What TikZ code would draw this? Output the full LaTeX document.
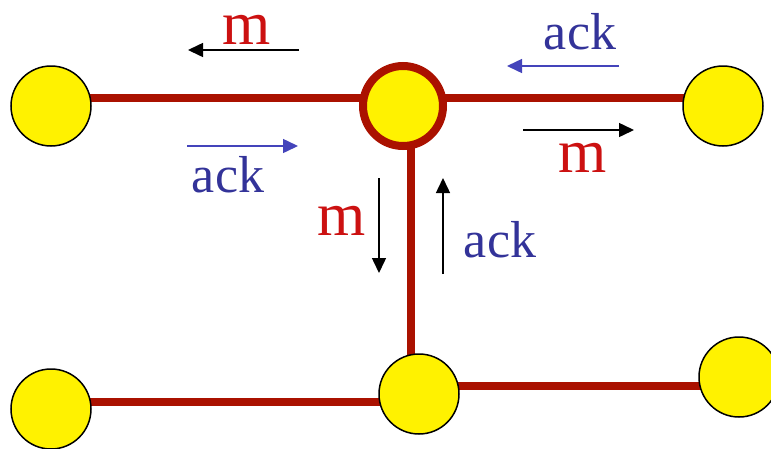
\documentclass[tikz,border=0pt]{standalone}
\usepackage{fontspec}
\setmainfont{Liberation Serif}
\usetikzlibrary{arrows.meta,backgrounds}
\definecolor{linkred}{RGB}{170,17,0}
\definecolor{mred}{RGB}{204,17,17}
\definecolor{ackblue}{RGB}{51,51,153}
\definecolor{arrowblue}{RGB}{68,68,187}
\begin{document}
\begin{tikzpicture}[x=1pt,y=-1pt,
  peer/.style={circle, draw=black, line width=1.5pt, fill=yellow, minimum size=80pt, inner sep=0pt},
  hub/.style={peer, draw=linkred, line width=8pt},
  link/.style={draw=linkred, line width=8pt},
  msgarrow/.style={-{Triangle[length=15pt,width=14pt]}, line width=1.5pt},
  mtext/.style={text=mred, font=\fontsize{62}{70}\selectfont, inner sep=0pt, anchor=base},
  acktext/.style={text=ackblue, font=\fontsize{52}{60}\selectfont, inner sep=0pt, anchor=base}]
\useasboundingbox (0,0) rectangle (771,448);

% peers
\node[peer] (west) at (51,106) {};
\node[hub] (hub) at (403,106) {};
\node[peer] (east) at (723,106) {};
\node[peer] (sw) at (51,409) {};
\node[peer] (south) at (419,394) {};
\node[peer] (se) at (739,377) {};

% links
\begin{scope}[on background layer]
\draw[link] ([yshift=8pt]west.center) -- ([yshift=8pt]hub.center);
\draw[link] ([yshift=8pt]hub.center) -- ([yshift=8pt]east.center);
\draw[link] ([xshift=8pt]hub.center) -- ([xshift=-8pt]south.center);
\draw[link] ([yshift=7pt]sw.center) -- ([yshift=-8pt]south.center);
\draw[link] ([yshift=8pt]south.center) -- ([yshift=-9pt]se.center);
\end{scope}

% labels
\node[mtext] (mwest) at (247,44) {m};
\node[acktext] (ackwest) at (228,192) {ack};
\node[acktext] (ackeast) at (580,49) {ack};
\node[mtext] (meast) at (583,172) {m};
\node[mtext] (mdown) at (342,235) {m};
\node[acktext] (ackup) at (500,257) {ack};

% arrows
\coordinate (mw1) at (299,50);  \coordinate (mw2) at (188,50);
\coordinate (aw1) at (187,146); \coordinate (aw2) at (298,146);
\coordinate (ae1) at (619,66);  \coordinate (ae2) at (507,66);
\coordinate (me1) at (523,130); \coordinate (me2) at (634,130);
\coordinate (md1) at (379,178); \coordinate (md2) at (379,273);
\coordinate (au1) at (443,274); \coordinate (au2) at (443,178);

\draw[msgarrow] (mw1) -- (mw2);
\draw[msgarrow, arrowblue] (aw1) -- (aw2);
\draw[msgarrow, arrowblue] (ae1) -- (ae2);
\draw[msgarrow] (me1) -- (me2);
\draw[msgarrow] (md1) -- (md2);
\draw[msgarrow] (au1) -- (au2);
\end{tikzpicture}
\end{document}
